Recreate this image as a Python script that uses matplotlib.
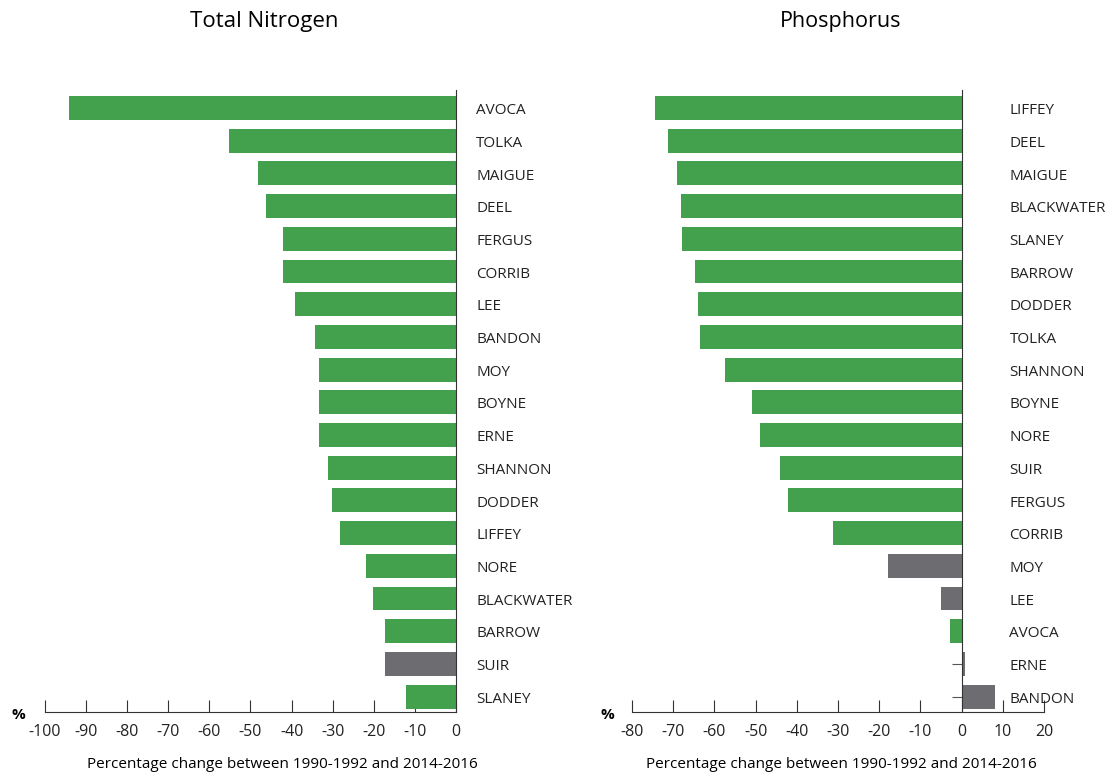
import matplotlib
matplotlib.use("Agg")
import matplotlib.pyplot as plt

plt.rcParams["font.family"] = ["Open Sans", "DejaVu Sans"]
plt.rcParams["axes.unicode_minus"] = False

GREEN = "#43a14d"
GREY = "#6d6c71"

# Total Nitrogen, % change 1990-1992 vs 2014-2016
n_rivers = ["AVOCA", "TOLKA", "MAIGUE", "DEEL", "FERGUS", "CORRIB", "LEE", "BANDON",
            "MOY", "BOYNE", "ERNE", "SHANNON", "DODDER", "LIFFEY", "NORE",
            "BLACKWATER", "BARROW", "SUIR", "SLANEY"]
n_values = [-94.2, -55.2, -48.2, -46.2, -42.1, -42.1, -39.2, -34.3,
            -33.3, -33.3, -33.3, -31.1, -30.2, -28.2, -21.9,
            -20.2, -17.3, -17.3, -12.2]
n_significant = [True] * 17 + [False, True]

# Phosphorus
p_rivers = ["LIFFEY", "DEEL", "MAIGUE", "BLACKWATER", "SLANEY", "BARROW", "DODDER",
            "TOLKA", "SHANNON", "BOYNE", "NORE", "SUIR", "FERGUS", "CORRIB",
            "MOY", "LEE", "AVOCA", "ERNE", "BANDON"]
p_values = [-74.4, -71.3, -69.1, -68.1, -67.9, -64.7, -64.0,
            -63.5, -57.5, -50.9, -49.0, -44.1, -42.2, -31.3,
            -17.9, -5.1, -2.9, 0.8, 8.2]
p_significant = [True] * 14 + [False, False, True, False, False]

n_ticks = list(range(-100, 1, 10))
p_ticks = list(range(-80, 21, 10))

xlabel = "Percentage change between 1990-1992 and 2014-2016"


def draw_panel(ax, rivers, values, significant, ticks, label_x):
    ypos = list(range(len(rivers)))
    colors = [GREEN if s else GREY for s in significant]
    ax.barh(ypos, values, height=0.73, color=colors, zorder=3)
    ax.set_xlim(ticks[0], ticks[-1])
    ax.set_ylim(len(rivers) - 0.53, -0.55)

    for side in ("top", "right"):
        ax.spines[side].set_visible(False)
    ax.spines["left"].set_position(("data", 0))
    ax.spines["left"].set_zorder(4)
    ax.spines["left"].set_color("#333333")
    ax.spines["bottom"].set_color("#333333")
    ax.yaxis.set_zorder(2)

    ax.set_yticks(ypos)
    ax.set_yticklabels([])
    ax.tick_params(axis="y", direction="out", length=7, color="#555555")
    ax.set_xticks(ticks)
    ax.tick_params(axis="x", direction="in", length=9, pad=9,
                   labelsize=11.5, color="#333333", labelcolor="#222222")

    for y, name in zip(ypos, rivers):
        ax.text(label_x, y + 0.08, name, ha="left", va="center", fontsize=11,
                color="#222222", clip_on=False)


fig = plt.figure(figsize=(11.1, 7.77), dpi=100)
ax_n = fig.add_axes([45 / 1110, 1 - 712 / 777, 411 / 1110, 622 / 777])
ax_p = fig.add_axes([632 / 1110, 1 - 712 / 777, 412 / 1110, 622 / 777])

draw_panel(ax_n, n_rivers, n_values, n_significant, n_ticks, 4.9)
draw_panel(ax_p, p_rivers, p_values, p_significant, p_ticks, 11.6)

fig.text(264 / 1110, 1 - 22 / 777, "Total Nitrogen", ha="center", va="center", fontsize=16)
fig.text(841 / 1110, 1 - 22 / 777, "Phosphorus", ha="center", va="center", fontsize=15.5)
fig.text(282 / 1110, 1 - 765 / 777, xlabel, ha="center", va="center", fontsize=11)
fig.text(841 / 1110, 1 - 765 / 777, xlabel, ha="center", va="center", fontsize=11)
fig.text(18 / 1110, 1 - 715 / 777, "%", ha="center", va="center", fontsize=11, weight="bold")
fig.text(607 / 1110, 1 - 715 / 777, "%", ha="center", va="center", fontsize=11, weight="bold")

fig.savefig("out.png", dpi=100)
